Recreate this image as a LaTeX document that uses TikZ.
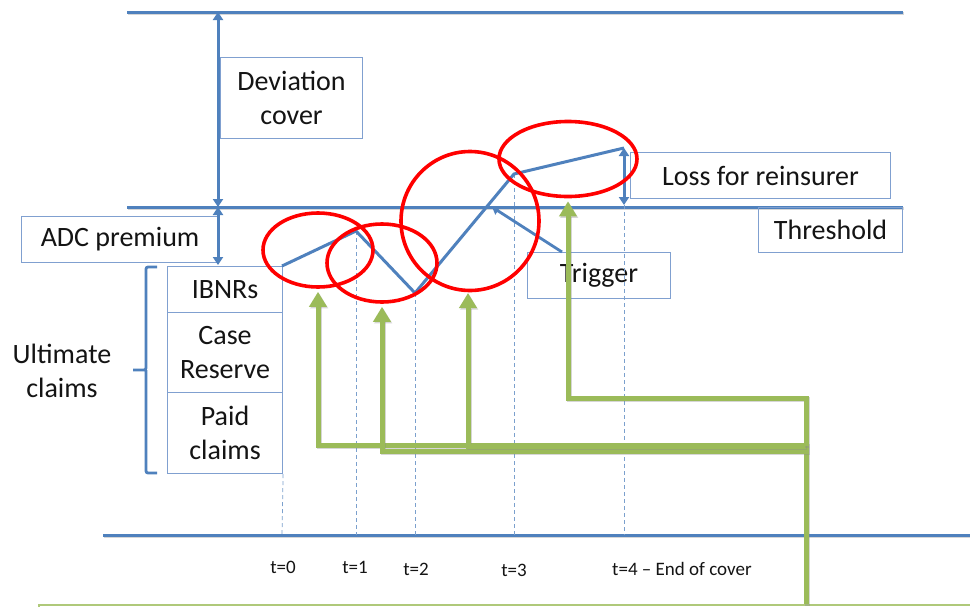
\documentclass[tikz,border=0pt]{standalone}
\usepackage{fontspec}
\setmainfont{Carlito}
\usetikzlibrary{arrows.meta,shapes.geometric}
\definecolor{ink}{RGB}{20,20,20}
\definecolor{axisblue}{RGB}{79,129,189}
\definecolor{boxblue}{RGB}{128,160,208}
\definecolor{ringred}{RGB}{255,0,0}
\definecolor{linkgreen}{RGB}{155,187,89}
\tikzset{
  x=1pt, y=-1pt,
  txt/.style={font=\fontsize{28}{34}\selectfont, text=ink, align=center, inner sep=0pt},
  tlabel/.style={font=\fontsize{19}{22}\selectfont, text=ink, inner sep=0pt},
  labelbox/.style={txt, draw=boxblue, line width=1.1pt, anchor=north west},
  shadowed/.style={preaction={draw=black!45, opacity=0.35, line width=#1,
      transform canvas={shift={(1.2pt,-1.6pt)}}}},
  axisline/.style={draw=axisblue, line width=3pt, shadowed=3pt},
  span/.style={draw=axisblue, line width=3pt,
      {Triangle[width=10pt,length=8pt]}-{Triangle[width=10pt,length=8pt]}},
  guide/.style={draw=axisblue!75, line width=0.7pt, dash pattern=on 4pt off 3pt},
  claimpath/.style={draw=axisblue, line width=3pt, line join=miter},
  ring/.style={ellipse, draw=ringred, line width=3.6pt, inner sep=0pt},
  link/.style={draw=linkgreen, line width=5pt, line join=miter,
      -{Triangle[width=17pt,length=15pt]}},
}
\begin{document}
\begin{tikzpicture}
\useasboundingbox (0,0) rectangle (970,606);
\clip (0,0) rectangle (970,606);
\fill[white] (0,0) rectangle (970,606);

% levels: top of cover, threshold and time axis
\coordinate (topL) at (127,12);   \coordinate (topR) at (903,12);
\coordinate (thrL) at (127,207);  \coordinate (thrR) at (903,207);
\coordinate (axL)  at (103,535);  \coordinate (axR)  at (975,535);
\draw[axisline] (topL) -- (topR);
\draw[axisline] (thrL) -- (thrR);
\draw[axisline] (axL) -- (axR);

% label boxes
\node[labelbox, minimum width=142pt, minimum height=81pt] (dev) at (220,57) {Deviation\\cover};
\node[labelbox, minimum width=197pt, minimum height=46pt] (adc) at (21,216) {ADC premium};
\node[labelbox, minimum width=115pt, minimum height=46pt] (ibnr) at (167,266) {IBNRs};
\node[labelbox, minimum width=115pt, minimum height=80pt] (case) at (167,312) {Case\\Reserve};
\node[labelbox, minimum width=115pt, minimum height=81pt] (paid) at (167,392) {Paid\\claims};
\node[labelbox, minimum width=260pt, minimum height=46pt] (loss) at (630,152) {Loss for reinsurer};
\node[labelbox, minimum width=144pt, minimum height=45pt] (thr) at (758,207) {Threshold};
\node[labelbox, minimum width=143pt, minimum height=46pt] (trig) at (527,252) {Trigger};
\node[txt] (ult) at (62,371) {Ultimate\\claims};

% brace grouping the claim components
\draw[axisblue, line width=2.8pt, rounded corners=2pt]
  (157,267) -| (146,370) -- (133,370)
  (146,370) |- (157,473);

% span arrows
\coordinate (devTop) at (218,12);
\coordinate (devBot) at (218,207);
\coordinate (adcBot) at (218,265);
\draw[span] (devTop) -- (devBot);
\draw[span] (devBot) -- (adcBot);

% development of the claims
\coordinate (p0) at (282,266);
\coordinate (p1) at (356,231);
\coordinate (p2) at (415,293);
\coordinate (p3) at (514,174);
\coordinate (p4) at (624,148);
\coordinate (cross) at (492,207);
\coordinate (thr4) at (624,205);

% time guides
\coordinate (g0) at (282,535);
\coordinate (g1) at (356,535);
\coordinate (g2) at (415,535);
\coordinate (g3) at (514,535);
\coordinate (g4) at (624,535);
\draw[guide] (paid.south east) -- (g0);
\draw[guide] (p1) -- (g1);
\draw[guide] (p2) -- (g2);
\draw[guide] (p3) -- (g3);
\draw[guide] (thr4) -- (g4);

\draw[claimpath] (p0) -- (p1) -- (p2) -- (p3) -- (p4);
\draw[span] (p4) -- (thr4);
\draw[draw=axisblue, line width=2.8pt, -{Triangle[width=9pt,length=7pt]}]
  ([xshift=35pt]trig.north west) -- (cross);

% time labels
\node[tlabel] (t0) at (283,567) {t=0};
\node[tlabel] (t1) at (355,567) {t=1};
\node[tlabel] (t2) at (416,569) {t=2};
\node[tlabel] (t3) at (514,570) {t=3};
\node[tlabel, anchor=west] (t4) at (612,569) {t=4 – End of cover};

% highlighted stages
\node[ring, minimum width=110pt, minimum height=74pt] (e1) at (318,250) {};
\node[ring, minimum width=110pt, minimum height=78pt] (e2) at (382,263) {};
\node[ring, minimum width=138pt, minimum height=139pt] (e3) at (470,221) {};
\node[ring, minimum width=138pt, minimum height=75pt] (e4) at (568,159) {};

% box at the foot, linked to each stage
\node[draw=linkgreen!80, line width=2pt, anchor=north west,
      minimum width=960pt, minimum height=60pt] (foot) at (38,604) {};
\coordinate (trunk) at (806,604);
\coordinate (split) at (806,446);
\draw[link, shadowed=5pt] (trunk) |- (318,445) -- ([yshift=-3pt]e1.south);
\draw[link, shadowed=5pt] (split) |- (382,451) -- ([yshift=-3pt]e2.south);
\draw[link, shadowed=5pt] (split) -- (468,446) -- (468,293);
\draw[link, shadowed=5pt] (split) -- (806,398) -| ([yshift=-3pt]e4.south);
\end{tikzpicture}
\end{document}
